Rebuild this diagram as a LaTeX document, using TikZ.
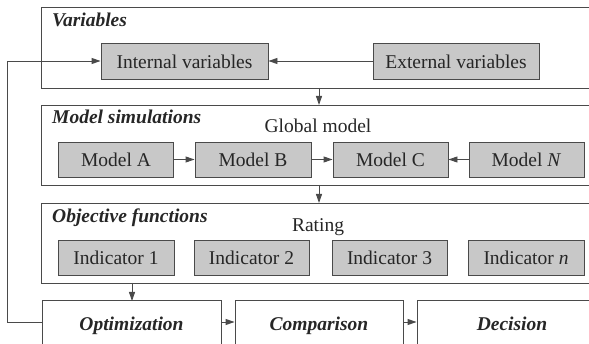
\documentclass[tikz,border=0pt]{standalone}
\usepackage{fontspec}
\setmainfont{Liberation Serif}
\usetikzlibrary{arrows.meta}
\definecolor{ln}{HTML}{4A4A4A}
\definecolor{gf}{HTML}{C8C8C8}
\definecolor{tx}{HTML}{262626}
\begin{document}
\begin{tikzpicture}[x=1pt,y=-1pt,
  every node/.style={text=tx,font=\fontsize{19.5}{22}\selectfont,inner sep=0pt},
  panel/.style={draw=ln,line width=0.9pt,rectangle},
  gbox/.style={draw=ln,line width=0.9pt,fill=gf,rectangle,text height=15pt,text depth=0pt},
  wbox/.style={draw=ln,line width=0.9pt,fill=white,rectangle,text height=15pt,text depth=1pt,font=\fontsize{19.5}{22}\selectfont\bfseries\itshape},
  ttl/.style={anchor=base west,font=\fontsize{19.5}{22}\selectfont\bfseries\itshape},
  lbl/.style={anchor=base},
  conn/.style={draw=ln,line width=0.9pt,-{Triangle[length=9pt,width=6pt]}}
]
\useasboundingbox (0,0) rectangle (589,344);
\clip (0,0) rectangle (589,344);
% panels
\node[panel,minimum width=560pt,minimum height=81pt] (p1) at (321,47.5) {};
\node[panel,minimum width=560pt,minimum height=80pt] (p2) at (321,145) {};
\node[panel,minimum width=560pt,minimum height=80pt] (p3) at (321,243) {};
\node[ttl] (t1) at (52,26.5) {Variables};
\node[ttl] (t2) at (52,123.5) {Model simulations};
\node[ttl] (t3) at (52,222.5) {Objective functions};
\node[lbl] (gm) at (318,133) {Global model};
\node[lbl] (rt) at (318,232) {Rating};
% variables
\node[gbox,minimum width=167pt,minimum height=36pt] (iv) at (184.5,61) {Internal variables};
\node[gbox,minimum width=166pt,minimum height=36pt] (ev) at (456,61) {External variables};
% models
\node[gbox,minimum width=115pt,minimum height=35pt] (ma) at (116,159.5) {Model A};
\node[gbox,minimum width=116pt,minimum height=35pt] (mb) at (253,159.5) {Model B};
\node[gbox,minimum width=115pt,minimum height=35pt] (mc) at (390.5,159.5) {Model C};
\node[gbox,minimum width=115pt,minimum height=35pt] (mn) at (526.5,159.5) {Model \textit{N}};
% indicators
\node[gbox,minimum width=116pt,minimum height=35pt] (i1) at (116,257.5) {Indicator 1};
\node[gbox,minimum width=115pt,minimum height=35pt] (i2) at (251.5,257.5) {Indicator 2};
\node[gbox,minimum width=115pt,minimum height=35pt] (i3) at (389.5,257.5) {Indicator 3};
\node[gbox,minimum width=116pt,minimum height=35pt] (in) at (526,257.5) {Indicator \textit{n}};
% bottom
\node[wbox,minimum width=179pt,minimum height=46pt] (op) at (131.5,323.5) {Optimization};
\node[wbox,minimum width=168pt,minimum height=46pt] (cp) at (319,323.5) {Comparison};
\node[wbox,minimum width=190pt,minimum height=46pt] (dc) at (512,323.5) {Decision};
\coordinate (fb) at (7,322);
% connectors
\draw[conn] (ev.west) -- (iv.east);
\draw[conn] (op.west |- fb) -- (fb) |- (iv.west);
\draw[conn] (319,88) -- (319,105);
\draw[conn] (319,185) -- (319,203);
\draw[conn] (132,283) -- (132,301);
\draw[conn] (ma.east) -- (mb.west);
\draw[conn] (mb.east) -- (mc.west);
\draw[conn] (mn.west) -- (mc.east);
\draw[conn] (op.east |- 0,322) -- (cp.west |- 0,322);
\draw[conn] (cp.east |- 0,322) -- (dc.west |- 0,322);
\end{tikzpicture}
\end{document}
